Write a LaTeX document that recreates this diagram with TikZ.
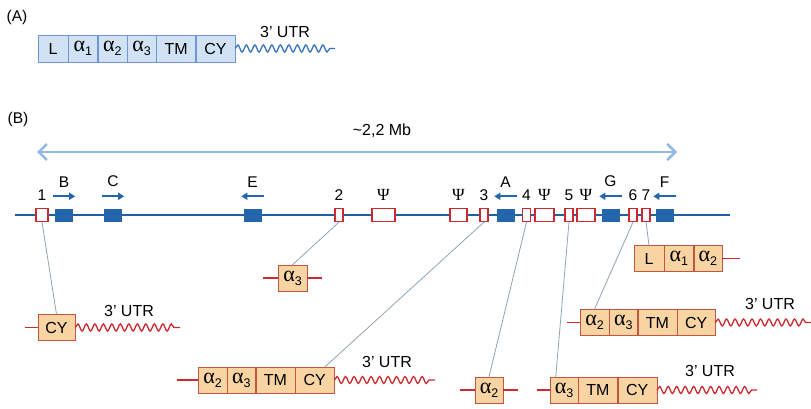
\documentclass[tikz,border=0pt]{standalone}
\usepackage{fontspec}
\setmainfont{Liberation Sans}
\newfontfamily\grkfont{Liberation Serif}
\usetikzlibrary{arrows.meta,positioning,decorations.pathmorphing}
\definecolor{GnBlue}{HTML}{2366AC}
\definecolor{GnLine}{HTML}{1F5FA6}
\definecolor{GnRed}{HTML}{CC2A30}
\definecolor{GnPeach}{HTML}{F8D4A2}
\definecolor{GnEdge}{HTML}{C4563F}
\definecolor{GnSky}{HTML}{D2E2F5}
\definecolor{GnSkyEdge}{HTML}{6F98CE}
\definecolor{GnWave}{HTML}{3A73C0}
\definecolor{GnSpan}{HTML}{94B8E4}
\definecolor{GnLink}{HTML}{8EA3B5}
\newcommand\GkAlpha[1]{{\grkfont\fontsize{22}{22}\selectfont α}\raisebox{-4pt}{\fontsize{12.5}{13}\selectfont #1}}
\newcommand\GkPsi{{\grkfont\fontsize{17}{17}\selectfont Ψ}}
\begin{document}
\begin{tikzpicture}[x=1pt,y=-1pt,
 node distance=0pt,
 every node/.style={font=\fontsize{16}{18}\selectfont},
 acell/.style={draw=GnSkyEdge,fill=GnSky,minimum height=27pt,minimum width=29pt,inner sep=0pt},
 cell/.style={draw=GnEdge,fill=GnPeach,minimum height=26pt,minimum width=29pt,inner sep=0pt},
 exon/.style={draw=GnRed,fill=white,line width=1.2pt,minimum height=13pt,minimum width=8pt,inner sep=0pt},
 pseudo/.style={exon,minimum width=18pt},
 gene/.style={fill=GnBlue,minimum height=13pt,minimum width=18pt,inner sep=0pt},
 tag/.style={inner sep=1pt,font=\fontsize{15.5}{17}\selectfont},
 utr/.style={draw=GnRed,line width=1.3pt,decorate,decoration={snake,amplitude=3.5pt,segment length=8.5pt,post length=3pt}},
 autr/.style={utr,draw=GnWave},
 stub/.style={draw=GnRed,line width=1.4pt},
 link/.style={draw=GnLink,line width=0.8pt},
 dir/.style={draw=GnBlue,line width=2pt,shorten <=-2pt,shorten >=-2pt,-{Triangle[length=6pt,width=7pt]}},
 span/.style={draw=GnSpan,line width=2.5pt,{Straight Barb[length=8pt,width=16pt]}-{Straight Barb[length=8pt,width=16pt]}}
]
\useasboundingbox (0,0) rectangle (811,409);
% (A) mRNA
\node[tag] (pA) at (17,17) {(A)};
\node[acell,minimum width=30pt] (aL) at (53,48.5) {L};
\node[acell,right=of aL] (aa1) {\GkAlpha{1}};
\node[acell,right=of aa1] (aa2) {\GkAlpha{2}};
\node[acell,right=of aa2] (aa3) {\GkAlpha{3}};
\node[acell,minimum width=39pt,right=of aa3] (aTM) {TM};
\node[acell,minimum width=39pt,right=of aTM] (aCY) {CY};
\coordinate (aend) at (335,48.5);
\draw[autr] (aCY.east) -- (aend);
\node (aU) at (285,32) {3’ UTR};
% (B) locus
\node[tag] (pB) at (18,119) {(B)};
\coordinate (mbL) at (37,152); \coordinate (mbR) at (677,152);
\draw[span] (mbL) -- (mbR);
\node (mb) at (382,131) {\textasciitilde 2,2 Mb};
\coordinate (chrL) at (15,215); \coordinate (chrR) at (730,215);
\draw[GnLine,line width=1.8pt] (chrL) -- (chrR);
\node[exon,minimum width=12pt] (e1) at (42,215) {};
\node[exon] (e2) at (339,215) {};
\node[exon] (e3) at (484,215) {};
\node[exon] (e4) at (526.5,215) {};
\node[exon] (e5) at (569,215) {};
\node[exon] (e6) at (633,215) {};
\node[exon] (e7) at (646,215) {};
\node[pseudo,minimum width=23pt] (p1) at (383.5,215) {};
\node[pseudo,minimum width=17pt] (p2) at (458.5,215) {};
\node[pseudo,minimum width=19pt] (p3) at (544.5,215) {};
\node[pseudo] (p4) at (586,215) {};
\node[gene] (gB) at (64,215) {};
\node[gene] (gC) at (113,215) {};
\node[gene] (gE) at (252.5,215) {};
\node[gene] (gA) at (505.5,215) {};
\node[gene] (gG) at (610.5,215) {};
\node[gene] (gF) at (664.5,215) {};
\foreach \e/\t in {e1/1,e2/2,e3/3,e4/4,e5/5,e6/6,e7/7}
  \node[tag,above=6pt of \e] (n\e) {\t};
\foreach \p in {p1,p2,p3,p4}
  \node[tag,above=6pt of \p] (n\p) {\GkPsi};
\foreach \g/\t in {gB/B,gC/C,gE/E,gA/A,gG/G,gF/F}
  \node[tag,above=20pt of \g] (n\g) {\t};
\draw[dir] ([yshift=12pt]gB.north west) -- ([yshift=12pt]gB.north east);
\draw[dir] ([yshift=12pt]gC.north west) -- ([yshift=12pt]gC.north east);
\draw[dir] ([yshift=12pt]gE.north east) -- ([yshift=12pt]gE.north west);
\draw[dir] ([yshift=12pt]gA.north east) -- ([yshift=12pt]gA.north west);
\draw[dir] ([yshift=12pt]gG.north east) -- ([yshift=12pt]gG.north west);
\draw[dir] ([yshift=12pt]gF.north east) -- ([yshift=12pt]gF.north west);
% exon 1
\node[cell,minimum width=37pt] (c1) at (56.5,327.5) {CY};
\coordinate (s1) at (25,327.5); \coordinate (u1) at (180,327.5);
\draw[stub] (s1) -- (c1.west); \draw[utr] (c1.east) -- (u1);
\node (t1) at (129,311) {3’ UTR};
% exon 2
\node[cell] (c2) at (292.5,278) {\GkAlpha{3}};
\coordinate (s2a) at (263,278); \coordinate (s2b) at (322,278);
\draw[stub] (s2a) -- (c2.west); \draw[stub] (c2.east) -- (s2b);
% exon 3
\node[cell] (c3a) at (212.5,380) {\GkAlpha{2}};
\node[cell,minimum width=28pt,right=of c3a] (c3b) {\GkAlpha{3}};
\node[cell,minimum width=39pt,right=of c3b] (c3c) {TM};
\node[cell,minimum width=39pt,right=of c3c] (c3d) {CY};
\coordinate (s3) at (177,380); \coordinate (u3) at (435,380);
\draw[stub] (s3) -- (c3a.west); \draw[utr] (c3d.east) -- (u3);
\node (t3) at (387,362) {3’ UTR};
% exon 4
\node[cell,minimum width=28pt] (c4) at (489,390) {\GkAlpha{2}};
\coordinate (s4a) at (460,390); \coordinate (s4b) at (518,390);
\draw[stub] (s4a) -- (c4.west); \draw[stub] (c4.east) -- (s4b);
% exon 5
\node[cell,minimum width=28pt] (c5a) at (564,390) {\GkAlpha{3}};
\node[cell,minimum width=39pt,right=of c5a] (c5b) {TM};
\node[cell,minimum width=39pt,right=of c5b] (c5c) {CY};
\coordinate (s5) at (537,390); \coordinate (u5) at (757,390);
\draw[stub] (s5) -- (c5a.west); \draw[utr] (c5c.east) -- (u5);
\node (t5) at (710,371) {3’ UTR};
% exon 6
\node[cell] (c6a) at (594.5,322.5) {\GkAlpha{2}};
\node[cell,minimum width=28pt,right=of c6a] (c6b) {\GkAlpha{3}};
\node[cell,minimum width=39pt,right=of c6b] (c6c) {TM};
\node[cell,minimum width=38pt,right=of c6c] (c6d) {CY};
\coordinate (s6) at (567,322.5); \coordinate (u6) at (811,322.5);
\draw[stub] (s6) -- (c6a.west); \draw[utr] (c6d.east) -- (u6);
\node (t6) at (770,304) {3’ UTR};
% exon 7
\node[cell,minimum width=30pt] (c7a) at (649,258.5) {L};
\node[cell,right=of c7a] (c7b) {\GkAlpha{1}};
\node[cell,minimum width=28pt,right=of c7b] (c7c) {\GkAlpha{2}};
\coordinate (s7) at (740,258.5);
\draw[stub] (c7c.east) -- (s7);
% links
\draw[link] (e1.south) -- (c1.north);
\draw[link] (e2.south) -- (c2.north);
\draw[link] (e3.south) -- (c3d.52);
\draw[link] (e4.south) -- (c4.north);
\draw[link] (e5.south) -- (c5a.122);
\draw[link] (e6.south) -- (c6a.north);
\draw[link] (e7.south) -- (c7a.north);
\end{tikzpicture}
\end{document}
